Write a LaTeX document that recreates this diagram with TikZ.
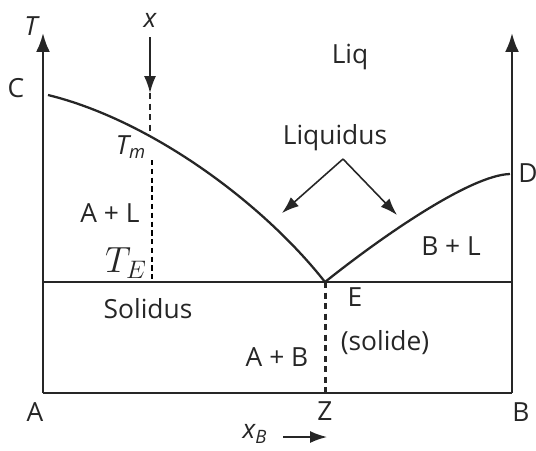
\documentclass[tikz,border=0pt]{standalone}
\usepackage{fontspec}
\setmainfont{Open Sans}
\usepackage{tikz}
\usetikzlibrary{arrows.meta}

\begin{document}
\begin{tikzpicture}[x=0.02cm, y=-0.02cm,
	axe/.style={line width=1.4pt, draw=black!85},
	courbe/.style={line width=1.3pt, draw=black!85},
	fl/.style={-{Latex[length=3.4mm, width=2.4mm]}, line width=0.9pt, draw=black!85},
	lbl/.style={font=\fontsize{15}{17}\selectfont, inner sep=1pt, text=black!85},
	pointille/.style={line width=1.7pt, dash pattern=on 3.5pt off 2.5pt, draw=black!85}
	]
\useasboundingbox (0,0) rectangle (536,450);

% axes et cadre
\coordinate (A0) at (43,393);
\coordinate (B0) at (512,393);
\coordinate (Ttop) at (43,33);
\coordinate (Dtop) at (512,33);
\coordinate (El) at (43,282);
\coordinate (Er) at (512,282);
\draw[axe] (A0) -- (B0);
\draw[axe, -{Latex[length=3.8mm, width=2.8mm]}] (A0) -- (Ttop);
\draw[axe, -{Latex[length=3.8mm, width=2.8mm]}] (B0) -- (Dtop);
\draw[axe] (El) -- (Er);

% liquidus
\coordinate (C) at (48,95);
\coordinate (E) at (325,282);
\coordinate (D) at (510,174);
\draw[courbe] (C) .. controls (150,120) and (262,202) .. (E);
\draw[courbe] (E) .. controls (380,238) and (470,175) .. (D);

% composition x
\node[lbl, font=\fontsize{15}{17}\selectfont\itshape] (x) at (150,20) {x};
\coordinate (xhaut) at (150,37);
\coordinate (xbas) at (150,93);
\coordinate (Tm) at (150,131);
\draw[fl] (xhaut) -- (xbas);
\draw[pointille] (xbas) -- (Tm);
\coordinate (TEh) at (152,160);
\coordinate (TEb) at (152,282);
\draw[line width=0.8pt, dash pattern=on 3pt off 2pt] (TEh) -- (TEb);
\coordinate (Zb) at (325,393);
\draw[pointille] (E) -- (Zb);

% etiquettes
\node[lbl, font=\fontsize{15}{17}\selectfont\itshape] (T) at (31,26) {T};
\node[lbl] (Cl) at (16,88) {C};
\node[lbl] (Dl) at (528,173) {D};
\node[lbl] (Al) at (35,412) {A};
\node[lbl] (Bl) at (521,412) {B};
\node[lbl] (Zl) at (325,411) {Z};
\node[lbl] (El2) at (355,297) {E};
\node[lbl] (Tml) at (131,147) {\textit{T\textsubscript{m}}};
\node[lbl, font=\fontsize{20}{22}\selectfont] (TEl) at (126,263) {$T_E$};
\node[lbl] (Liq) at (350,57) {Liq};
\node[lbl] (Liquidus) at (335,138) {Liquidus};
\node[lbl] (AL) at (110,213) {A + L};
\node[lbl] (BL) at (451,246) {B + L};
\node[lbl] (Sol) at (148,309) {Solidus};
\node[lbl] (AB) at (277,357) {A + B};
\node[lbl] (solide) at (385,343) {(solide)};
\node[lbl, font=\fontsize{15}{17}\selectfont\itshape] (xB) at (255,434) {x\textsubscript{B}};

% fleches
\coordinate (Lq) at (343,159);
\coordinate (Lg) at (282,213);
\coordinate (Ld) at (397,215);
\draw[fl] (Lq) -- (Lg);
\draw[fl] (Lq) -- (Ld);
\coordinate (fxa) at (283,437);
\coordinate (fxb) at (327,437);
\draw[fl] (fxa) -- (fxb);
\end{tikzpicture}
\end{document}
